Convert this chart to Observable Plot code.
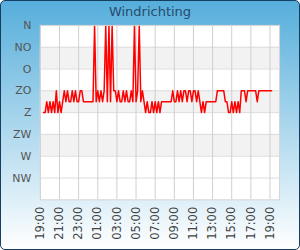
<!DOCTYPE html>
<html><head><meta charset="utf-8">
<script src="https://cdn.jsdelivr.net/npm/d3@7"></script>
<script src="https://cdn.jsdelivr.net/npm/@observablehq/plot@0.6"></script>
<style>
html,body{margin:0;padding:0;background:#fff}
#frame{position:relative;width:300px;height:250px;box-sizing:border-box;border:1px solid #153e63;border-radius:5px;background:linear-gradient(#56aedb,#ffffff);overflow:hidden;font-family:"DejaVu Sans",sans-serif}
#title{position:absolute;left:0;right:0;top:3px;text-align:center;font-size:13px;line-height:16px;color:#274b6d}
#chart{position:absolute;left:-1px;top:-1px}
</style></head>
<body><div id="frame"><div id="title">Windrichting</div><div id="chart"></div></div>
<script>
// Compass labels (Dutch) and their degrees
const compassLabels = ["N", "NO", "O", "ZO", "Z", "ZW", "W", "NW"];
const compassDegrees = [0, 45, 90, 135, 180, 225, 270, 315];
const codeDegrees = {N: 0, NO: 45, O: 90, ZO: 135, ZZO: 157.5, Z: 180, ZW: 225, W: 270, NW: 315};

// x ticks: hours since 19:00, labels
const xTickHours = [0, 2, 4, 6, 8, 10, 12, 14, 16, 18, 20, 22, 24];
const xTickLabels = ["19:00", "21:00", "23:00", "01:00", "03:00", "05:00", "07:00", "09:00", "11:00", "13:00", "15:00", "17:00", "19:00"];

// Shaded bands (degrees)
const bandStarts = [45, 135, 225];
const bandEnds = [90, 180, 270];

// Readings every 10 minutes, starting 19:20
const firstReadingMinutes = 20;
const readingStepMinutes = 10;
const directions = [
  "Z","Z","ZZO","Z","ZZO","Z","ZZO","Z","ZO","Z","ZZO","Z",
  "ZZO","ZO","ZZO","ZO","ZZO","ZZO","ZO","ZZO","ZO","ZZO","ZZO","ZO",
  "ZO","ZZO","ZZO","ZZO","ZZO","ZZO","ZZO","ZZO","N","ZZO","ZO","ZZO",
  "ZO","ZZO","ZO","N","ZZO","N","ZZO","N","ZO","ZO","ZZO","ZO",
  "ZZO","ZZO","ZO","ZZO","ZO","ZZO","ZZO","ZO","ZZO","N","ZZO","ZO",
  "N","ZZO","ZO","ZZO","Z","ZZO","Z","Z","ZZO","Z","ZZO","Z",
  "ZZO","Z","ZZO","ZZO","ZZO","ZZO","ZZO","ZZO","ZZO","ZO","ZZO","ZZO",
  "ZO","ZZO","ZO","ZZO","ZO","ZO","ZZO","ZO","ZO","ZZO","ZO","ZO",
  "ZZO","ZO","ZZO","Z","ZZO","Z","ZZO","ZZO","ZZO","ZZO","ZZO","ZZO",
  "ZZO","ZO","ZO","ZO","ZO","ZO","ZZO","ZZO","Z","Z","ZZO","Z",
  "ZZO","Z","ZZO","Z","ZO","ZO","ZO","ZZO","ZO","ZO","ZO","ZO",
  "ZO","ZO","ZZO","ZO","ZO","ZO","ZO","ZO","ZO","ZO","ZO","ZO"
];

const data = directions.map((c, i) => ({
  t: (firstReadingMinutes + i * readingStepMinutes) / 60,
  deg: codeDegrees[c]
}));
const bands = bandStarts.map((s, i) => ({y1: s, y2: bandEnds[i]}));

const chart = Plot.plot({
  width: 300, height: 250,
  marginLeft: 40, marginRight: 20, marginTop: 25, marginBottom: 50,
  style: {background: "transparent", fontFamily: "DejaVu Sans", overflow: "visible"},
  x: {domain: [0, 25], axis: null, label: null},
  y: {domain: [0, 360], reverse: true, axis: null, label: null},
  marks: [
    Plot.frame({fill: "white"}),
    Plot.rect(bands, {x1: () => 0, x2: () => 25, y1: "y1", y2: "y2", fill: "#f2f2f2"}),
    Plot.ruleY(compassDegrees.slice(1), {stroke: "#dcdcdc"}),
    Plot.ruleX(xTickHours, {stroke: "#d0d0d0"}),
    Plot.line(data, {x: "t", y: "deg", stroke: "red", strokeWidth: 1.5}),
    Plot.frame({stroke: "#d4d4d4"}),
    Plot.axisY(compassDegrees, {tickSize: 0, tickPadding: 9, fontSize: 11, color: "#555", label: null,
      tickFormat: d => compassLabels[compassDegrees.indexOf(d)]}),
    Plot.axisX(xTickHours, {tickSize: 0, tickPadding: 7, tickRotate: -90, fontSize: 11.5, color: "#444", label: null,
      tickFormat: d => xTickLabels[xTickHours.indexOf(d)]})
  ]
});
document.getElementById("chart").appendChild(chart);
</script>
</body></html>
